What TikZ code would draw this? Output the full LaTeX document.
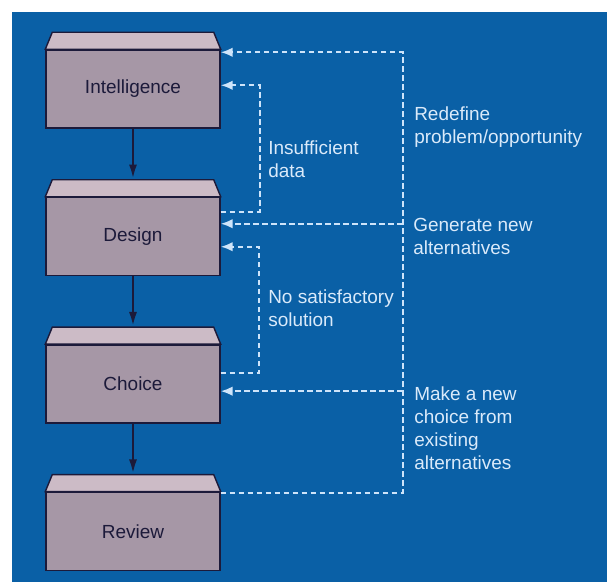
\documentclass[tikz,border=0pt]{standalone}
\usepackage{fontspec}
\setmainfont{Liberation Sans}
\usetikzlibrary{arrows.meta,calc,positioning}

\definecolor{panelblue}{RGB}{10,96,166}
\definecolor{boxbody}{RGB}{166,151,166}
\definecolor{boxlid}{RGB}{204,187,198}
\definecolor{boxline}{RGB}{28,26,58}
\definecolor{dashblue}{RGB}{206,228,250}
\definecolor{noteblue}{RGB}{218,234,250}

\begin{document}
\begin{tikzpicture}[x=0.025cm, y=-0.025cm, node distance=1.7cm,
    phase/.style={draw=boxline, line width=1pt, fill=boxbody, text=boxline,
      minimum width=4.35cm, minimum height=1.95cm,
      font=\fontsize{13.5}{16.4}\selectfont},
    lid/.style={draw=boxline, line width=1pt, fill=boxlid},
    flow/.style={draw=boxline, line width=2pt, -{Latex[length=0.38cm,width=0.2cm]}},
    feedback/.style={draw=dashblue, line width=1.4pt, dash pattern=on 3.8pt off 2.6pt,
      -{Latex[length=0.3cm,width=0.24cm]}},
    note/.style={text=noteblue, align=left, anchor=north west, inner sep=0pt,
      font=\fontsize{13.5}{16.4}\selectfont}]

    % Panel
    \useasboundingbox (0,0) rectangle (607,582);
    \fill[white] (0,0) rectangle (607,582);
    \fill[panelblue] (12,12) rectangle (607,582);

    % Phases
    \node[phase] (intel) at (133,89) {Intelligence};
    \node[phase, below=of intel] (design) {Design};
    \node[phase, below=of design] (choice) {Choice};
    \node[phase, below=of choice] (review) {Review};

    % Lids on top of the boxes
    \foreach \n in {intel,design,choice,review}
        \draw[lid] (\n.north west) -- ++(7,-17) -- ($(\n.north east)+(-7,-17)$) -- (\n.north east) -- cycle;

    % Main flow
    \foreach \a/\b in {intel/design,design/choice,choice/review}
        \draw[flow] (\a.south) -- ($(\b.north)+(0,-17)$);

    % Feedback loops
    \draw[feedback] ($(review.north east)+(0,1)$) -- ++(182,0) |- ($(intel.north east)+(0,3)$);
    \draw[feedback] ($(design.north east)+(0,15)$) -- ++(39,0) |- ($(intel.north east)+(0,36)$);
    \draw[feedback] ($(design.north east)+(182,27)$) -- ($(design.north east)+(0,27)$);
    \draw[feedback] ($(choice.north east)+(0,29)$) -- ++(38,0) |- ($(design.north east)+(0,50)$);
    \draw[feedback] ($(choice.north east)+(182,47)$) -- ($(choice.north east)+(0,47)$);

    % Labels
    \node[note] (redefine) at (414,106) {Redefine\\problem/opportunity};
    \node[note] (insufficient) at (268,140) {Insufficient\\data};
    \node[note] (generate) at (413,218) {Generate new\\alternatives};
    \node[note] (nosolution) at (268,289) {No satisfactory\\solution};
    \node[note] (newchoice) at (414,386) {Make a new\\choice from\\existing\\alternatives};
\end{tikzpicture}
\end{document}
